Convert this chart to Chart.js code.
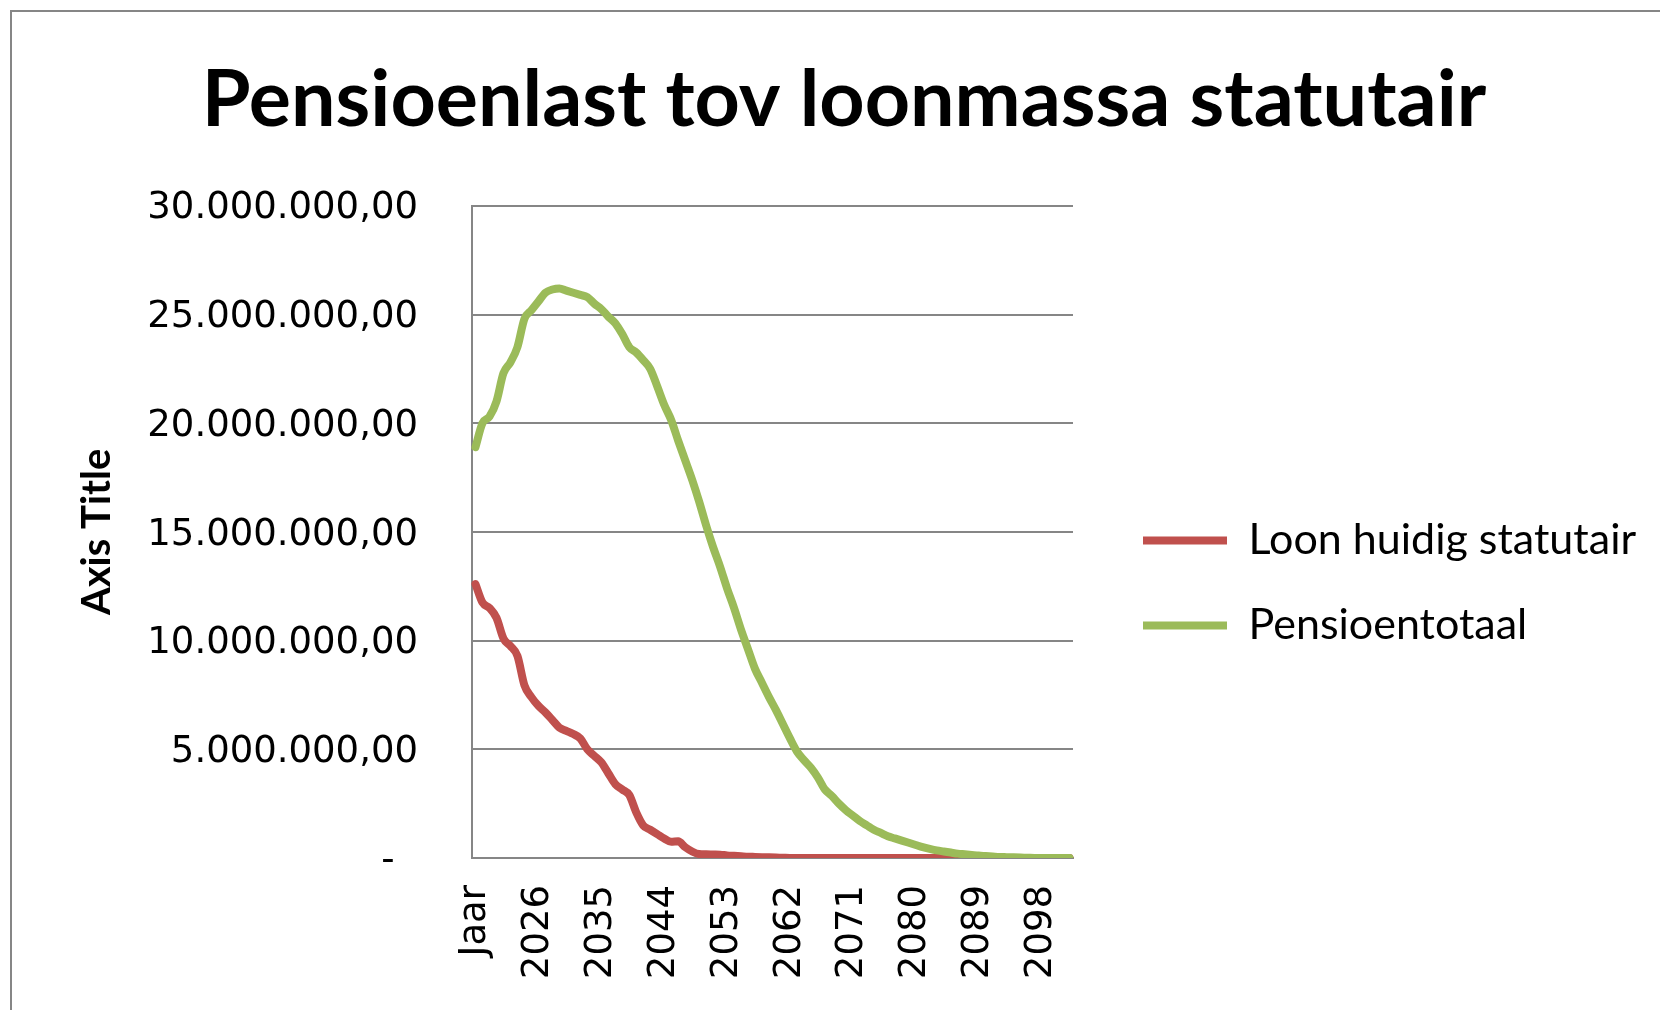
<!DOCTYPE html>
<html>
<head>
<meta charset="utf-8">
<script src="https://cdn.jsdelivr.net/npm/chart.js@4.4.0/dist/chart.umd.min.js"></script>
<style>
  html, body { margin: 0; padding: 0; background: #fff; overflow: hidden; }
  #wrap { position: absolute; left: 10px; top: 10px; width: 1648px; height: 1142px;
          border-top: 2px solid #868686; border-left: 2px solid #868686; }
</style>
</head>
<body>
<div id="wrap"><canvas id="chart" width="1648" height="1142"></canvas></div>
<script>
// Categories: header row "Jaar" followed by the years
const jaren = ['Jaar',
  2018, 2019, 2020, 2021, 2022, 2023, 2024, 2025, 2026, 2027,
  2028, 2029, 2030, 2031, 2032, 2033, 2034, 2035, 2036, 2037,
  2038, 2039, 2040, 2041, 2042, 2043, 2044, 2045, 2046, 2047,
  2048, 2049, 2050, 2051, 2052, 2053, 2054, 2055, 2056, 2057,
  2058, 2059, 2060, 2061, 2062, 2063, 2064, 2065, 2066, 2067,
  2068, 2069, 2070, 2071, 2072, 2073, 2074, 2075, 2076, 2077,
  2078, 2079, 2080, 2081, 2082, 2083, 2084, 2085, 2086, 2087,
  2088, 2089, 2090, 2091, 2092, 2093, 2094, 2095, 2096, 2097,
  2098, 2099, 2100, 2101, 2102];

// Loon huidig statutair
const loonHuidig = [
  12600000, 11750000, 11500000, 11050000, 10100000, 9750000, 9300000, 7950000, 7400000, 7000000,
  6700000, 6350000, 6000000, 5850000, 5700000, 5500000, 5000000, 4700000, 4400000, 3900000,
  3400000, 3150000, 2900000, 2100000, 1500000, 1300000, 1100000, 900000, 750000, 770000,
  500000, 300000, 180000, 170000, 160000, 150000, 120000, 100000, 80000, 60000,
  50000, 40000, 30000, 20000, 10000, 0, 0, 0, 0, 0,
  0, 0, 0, 0, 0, 0, 0, 0, 0, 0,
  0, 0, 0, 0, 0, 0, 0, 0, 0, 0,
  0, 0, 0, 0, 0, 0, 0, 0, 0, 0,
  0, 0, 0, 0, 0, 0];

// Pensioentotaal
const pensioenTotaal = [
  18900000, 20000000, 20300000, 21000000, 22300000, 22800000, 23500000, 24800000, 25200000, 25600000,
  26000000, 26150000, 26200000, 26100000, 26000000, 25900000, 25800000, 25500000, 25250000, 24900000,
  24600000, 24100000, 23500000, 23250000, 22900000, 22500000, 21700000, 20850000, 20150000, 19200000,
  18300000, 17400000, 16400000, 15300000, 14300000, 13400000, 12400000, 11500000, 10500000, 9600000,
  8700000, 8050000, 7400000, 6800000, 6150000, 5500000, 4900000, 4500000, 4150000, 3700000,
  3150000, 2850000, 2500000, 2200000, 1950000, 1700000, 1500000, 1300000, 1150000, 1000000,
  900000, 800000, 700000, 600000, 500000, 420000, 350000, 300000, 250000, 200000,
  170000, 140000, 110000, 90000, 70000, 50000, 40000, 30000, 20000, 10000,
  0, 0, 0, 0, 0, 0];

const yMax = 30000000;
const yStep = 5000000;

function bedrag(v) {
  if (v === 0) return '-  ';
  const s = Math.round(v).toString().replace(/\B(?=(\d{3})+(?!\d))/g, '.');
  return s + ',00';
}

const grijs = '#868686';

// the layout caps side boxes at a quarter of the width; give the legend the room it has in the original
const legendBreedte = {
  id: 'legendBreedte',
  beforeLayout(chart) {
    const lg = chart.legend;
    if (lg && !lg._vasteBreedte) {
      const fit = lg.fit;
      lg.fit = function() { fit.call(this); this.width = 559; };
      lg._vasteBreedte = true;
    }
  }
};

new Chart(document.getElementById('chart').getContext('2d'), {
  type: 'line',
  data: {
    labels: jaren,
    datasets: [
      {
        label: 'Loon huidig statutair',
        data: loonHuidig,
        borderColor: '#C0504D',
        backgroundColor: '#C0504D',
        borderWidth: 8,
        borderCapStyle: 'round',
        borderJoinStyle: 'round',
        pointRadius: 0,
        cubicInterpolationMode: 'monotone',
        order: 1
      },
      {
        label: 'Pensioentotaal',
        data: pensioenTotaal,
        borderColor: '#9BBB59',
        backgroundColor: '#9BBB59',
        borderWidth: 8,
        borderCapStyle: 'round',
        borderJoinStyle: 'round',
        pointRadius: 0,
        cubicInterpolationMode: 'monotone',
        order: 0
      }
    ]
  },
  options: {
    responsive: false,
    animation: false,
    layout: { padding: { left: 16, right: 0, top: 0, bottom: 0 } },
    plugins: {
      title: {
        display: true,
        text: 'Pensioenlast tov loonmassa statutair',
        color: '#000',
        font: { family: 'Lato', size: 79, weight: 'bold' },
        padding: { top: 41, bottom: 58 }
      },
      legend: {
        position: 'right',
        align: 'center',
        labels: {
          color: '#000',
          font: { family: 'Lato', size: 43 },
          usePointStyle: true,
          pointStyle: 'line',
          pointStyleWidth: 84,
          boxHeight: 43,
          padding: 42,
          sort: (a, b) => a.datasetIndex - b.datasetIndex
        }
      },
      tooltip: { enabled: false }
    },
    scales: {
      x: {
        offset: true,
        grid: { display: false, drawTicks: false },
        border: { display: true, color: grijs, width: 2 },
        ticks: {
          autoSkip: false,
          minRotation: 90,
          maxRotation: 90,
          padding: 27,
          color: '#000',
          font: { family: 'DejaVu Sans', size: 37 },
          callback: (v, i) => (i % 9 === 0 ? jaren[i] : null)
        },
        afterFit: s => { s.height = 296; }
      },
      y: {
        min: 0,
        max: yMax,
        ticks: {
          stepSize: yStep,
          padding: 54,
          labelOffset: 3,
          color: '#000',
          font: { family: 'DejaVu Sans', size: 37 },
          callback: v => bedrag(v)
        },
        grid: { color: grijs, lineWidth: 2, drawTicks: false },
        border: { display: true, color: grijs, width: 2 },
        title: {
          display: true,
          text: 'Axis Title',
          color: '#000',
          font: { family: 'Lato', size: 40, weight: 'bold' },
          padding: { top: 45, bottom: 0 }
        },
        afterFit: s => { s.width = 444; }
      },
      // empty spacer between plot and legend
      y2: {
        position: 'right',
        display: true,
        grid: { display: false, drawTicks: false },
        border: { display: false },
        ticks: { display: false },
        afterFit: s => { s.width = 28; }
      }
    }
  },
  plugins: [legendBreedte]
});
</script>
</body>
</html>
